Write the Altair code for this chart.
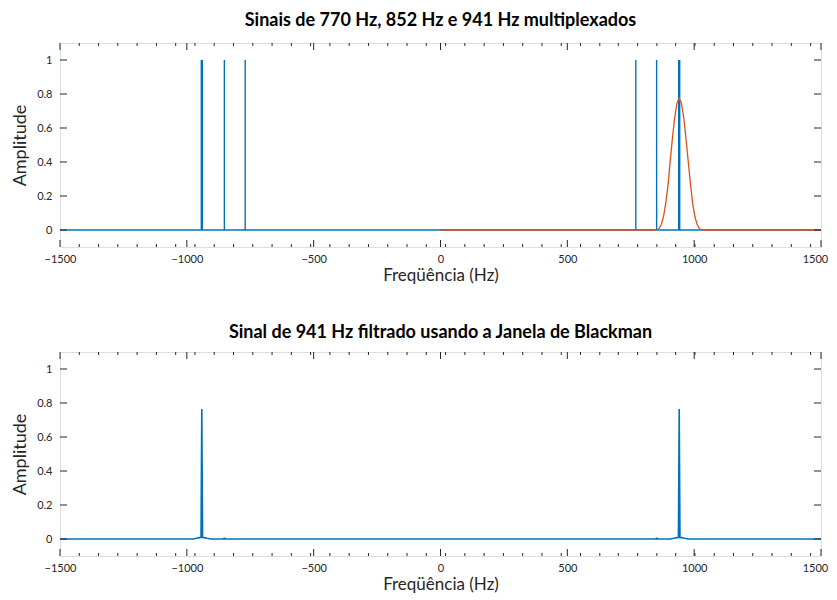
import altair as alt
import pandas as pd

# ---------------- data ----------------
x_ticks = [-1500, -1000, -500, 0, 500, 1000, 1500]
y_ticks = [0, 0.2, 0.4, 0.6, 0.8, 1]
x_minor = [-1424, -1348, -1272, -1196, -1120, -1044, -968, -892, -816, -740,
           -664, -588, -512, -436, -360, -284, -208, -132, -56, 20, 96, 172,
           248, 324, 400, 476, 552, 628, 701, 777, 853, 927, 1003, 1079, 1155,
           1231, 1307, 1383, 1459]

# top panel: multiplexed tones (blue spectrum)
spike_freqs = [-941, -852, -770, 770, 852, 941]
spike_amps = [1, 1, 1, 1, 1, 1]
base_freqs = [-1500, 1500]
base_amps = [0, 0]

# top panel: Blackman band-pass window (orange)
win_freqs = [0, 852, 861, 870, 879, 888, 897, 905, 914, 923, 932, 941,
             950, 959, 968, 977, 986, 994, 1003, 1012, 1021, 1030, 1500]
win_amps = [0, 0, 0.007, 0.031, 0.078, 0.156, 0.264, 0.396, 0.535, 0.659,
            0.745, 0.776, 0.745, 0.659, 0.535, 0.396, 0.264, 0.156, 0.078,
            0.031, 0.007, 0, 0]

# bottom panel: filtered 941 Hz signal
filt_freqs = [-1500, -976, -962, -950, -944, -941, -938, -932, -920, -906,
              -856, -852, -848, 848, 852, 856, 906, 920, 932, 938, 941, 944,
              950, 962, 976, 1500]
filt_amps = [0, 0, 0.004, 0.008, 0.01, 0.765, 0.01, 0.008, 0.004, 0,
             0, 0.004, 0, 0, 0.004, 0, 0, 0.004, 0.008, 0.01, 0.765, 0.01,
             0.008, 0.004, 0, 0]

BLUE = "#0072BD"
ORANGE = "#D95319"
AX = "#262626"
W, H = 761, 204

xscale = alt.Scale(domain=[-1500, 1500], nice=False, zero=False)
yscale = alt.Scale(domain=[-0.1, 1.1], nice=False, zero=False)

xaxis = alt.Axis(values=x_ticks, title="Freqüência (Hz)", ticks=False,
                 domain=False, grid=False, format="d", labelPadding=6,
                 labelFontSize=11, labelColor=AX, titleFontSize=17,
                 titleFontWeight="normal", titleColor=AX, titlePadding=3,
                 labelFont="Lato", titleFont="Lato", labelFlush=False,
                 labelOffset={"condition": {"test": "datum.value == 1500",
                                            "value": -6}, "value": 0})
yaxis = alt.Axis(values=y_ticks, title="Amplitude", ticks=False, domain=False,
                 grid=False, format="~g", labelPadding=8, labelFontSize=11,
                 labelColor=AX, titleFontSize=18, titleFontWeight="normal",
                 titleColor=AX, titlePadding=7, labelFont="Lato",
                 titleFont="Lato")

xt = pd.DataFrame({"f": x_ticks})
xm = pd.DataFrame({"f": x_minor})
yt = pd.DataFrame({"a": y_ticks})


def tick_layers():
    X = alt.X("f:Q", scale=xscale, axis=xaxis)
    Y = alt.Y("a:Q", scale=yscale, axis=yaxis)
    maj_b = alt.Chart(xt).mark_rule(color=AX, strokeWidth=1).encode(
        x=X, y=alt.value(H), y2=alt.value(H - 7))
    maj_t = alt.Chart(xt).mark_rule(color=AX, strokeWidth=1).encode(
        x=X, y=alt.value(0), y2=alt.value(7))
    min_b = alt.Chart(xm).mark_rule(color=AX, strokeWidth=1).encode(
        x=X, y=alt.value(H), y2=alt.value(H - 3))
    min_t = alt.Chart(xm).mark_rule(color=AX, strokeWidth=1).encode(
        x=X, y=alt.value(0), y2=alt.value(3))
    y_l = alt.Chart(yt).mark_rule(color=AX, strokeWidth=1).encode(
        y=Y, x=alt.value(0), x2=alt.value(7))
    y_r = alt.Chart(yt).mark_rule(color=AX, strokeWidth=1).encode(
        y=Y, x=alt.value(W - 7), x2=alt.value(W))
    return [maj_b, maj_t, min_b, min_t, y_l, y_r]


X = alt.X("f:Q", scale=xscale, axis=xaxis)
Y = alt.Y("a:Q", scale=yscale, axis=yaxis)

# ---- top panel ----
base_df = pd.DataFrame({"f": base_freqs, "a": base_amps})
spk_df = pd.DataFrame({"f": spike_freqs, "a": spike_amps})
win_df = pd.DataFrame({"f": win_freqs, "a": win_amps})

base_line = alt.Chart(base_df).mark_line(color=BLUE, strokeWidth=1.5).encode(x=X, y=Y)
spikes = alt.Chart(spk_df).mark_rule(color=BLUE).encode(
    x=X, y=Y, y2=alt.datum(0),
    strokeWidth=alt.condition("abs(datum.f) > 900", alt.value(2.4), alt.value(1.4)))
window = alt.Chart(win_df).mark_line(color=ORANGE, strokeWidth=1.3).encode(x=X, y=Y)

top = alt.layer(base_line, spikes, window, *tick_layers()).properties(
    width=W, height=H,
    title=alt.TitleParams("Sinais de 770 Hz, 852 Hz e 941 Hz multiplexados",
                          font="Lato", fontSize=18, fontWeight="bold",
                          color="#000000", offset=13))

# ---- bottom panel ----
filt_df = pd.DataFrame({"f": filt_freqs, "a": filt_amps})
filt_line = alt.Chart(filt_df).mark_line(color=BLUE, strokeWidth=1.6).encode(x=X, y=Y)

bottom = alt.layer(filt_line, *tick_layers()).properties(
    width=W, height=H,
    title=alt.TitleParams("Sinal de 941 Hz filtrado usando a Janela de Blackman",
                          font="Lato", fontSize=18, fontWeight="bold",
                          color="#000000", offset=10))

chart = alt.vconcat(top, bottom, spacing=39).properties(
    padding={"left": 3, "top": 3, "right": 0, "bottom": 0}
).configure_view(stroke=AX, strokeWidth=1).configure(background="white")

chart.save("out.html", embed_options={"renderer": "svg", "actions": False})
